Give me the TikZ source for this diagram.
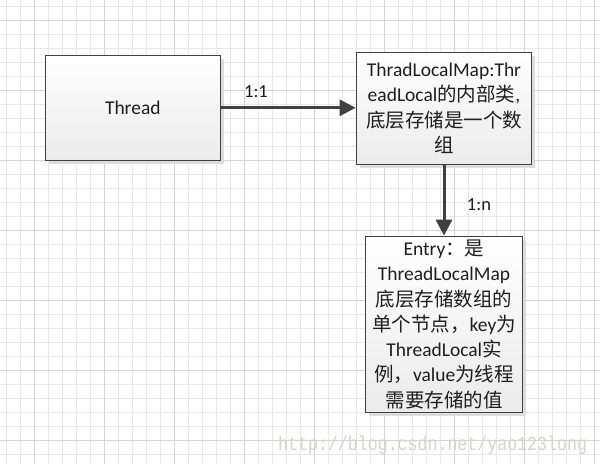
\documentclass[tikz,border=0pt]{standalone}
\usepackage{graphicx}
\usepackage{fontspec}
\setmainfont{Carlito}
\newfontfamily\cjk{Noto Sans CJK SC}
\newfontfamily\wmfont{Liberation Mono}
\usetikzlibrary{arrows.meta,shadows}
\definecolor{gridminor}{HTML}{E8E8E8}
\definecolor{gridmajor}{HTML}{D4D4D4}
\definecolor{edge}{HTML}{404040}
\definecolor{shadowc}{HTML}{DDDDDD}
\definecolor{boxbottom}{HTML}{EBEBEB}
\definecolor{wm}{HTML}{D4D4CC}
\definecolor{txt}{HTML}{1E1E1E}
\begin{document}
\begin{tikzpicture}[x=1pt,y=-1pt,
  box/.style={draw=edge, line width=1.3pt, top color=white, bottom color=boxbottom,
    inner sep=0pt, align=center, text=txt,
    font=\fontsize{19.5}{25.3}\selectfont,
    drop shadow={shadow xshift=3.5pt, shadow yshift=-3.5pt, fill=shadowc, opacity=1}},
  link/.style={draw=edge, line width=3pt, -{Triangle[length=16pt,width=16pt]}},
  lbl/.style={font=\fontsize{18.5}{22}\selectfont, text=txt, inner sep=0pt},
  minorline/.style={draw=gridminor, line width=0.8pt},
  majorline/.style={draw=gridmajor, line width=0.9pt},
]
\useasboundingbox (0,0) rectangle (600,464);
\fill[white] (0,0) rectangle (600,464);
\foreach \k in {0,...,42} \draw[minorline] (6.7+14*\k,0) -- (6.7+14*\k,464);
\foreach \k in {0,...,32} \draw[minorline] (0,6.7+14*\k) -- (600,6.7+14*\k);
\foreach \k in {0,...,8} \draw[majorline] (34.7+70*\k,0) -- (34.7+70*\k,464);
\foreach \k in {0,...,6} \draw[majorline] (0,20.7+70*\k) -- (600,20.7+70*\k);

\node[box, minimum width=175pt, minimum height=105pt] (thread) at (132.8,107.8) {Thread};
\node[box, minimum width=175.4pt, minimum height=112pt] (map) at (444,108.3)
  {ThradLocalMap:Thr\\eadLocal{\cjk 的内部类},\\{\cjk 底层存储是一个数}\\{\cjk 组}};
\node[box, minimum width=157.4pt, minimum height=176pt] (entry) at (444,324.3)
  {Entry{\cjk ：是}\\ThreadLocalMap\\{\cjk 底层存储数组的}\\{\cjk 单个节点，}key{\cjk 为}\\ThreadLocal{\cjk 实}\\{\cjk 例，}value{\cjk 为线程}\\{\cjk 需要存储的值}};

\draw[link] (thread.east) -- (thread.east -| map.west);
\draw[link] (map.south) -- (entry.north);

\node[lbl] (l11) at (256,92) {1:1};
\node[lbl] (l1n) at (479,205) {1:n};

\node[text=wm, inner sep=0pt, anchor=west, font=\wmfont\fontsize{20}{20}\selectfont] (wm) at (278,445)
  {\scalebox{0.83}[1]{http://blog.csdn.net/yao123long}};
\end{tikzpicture}
\end{document}
